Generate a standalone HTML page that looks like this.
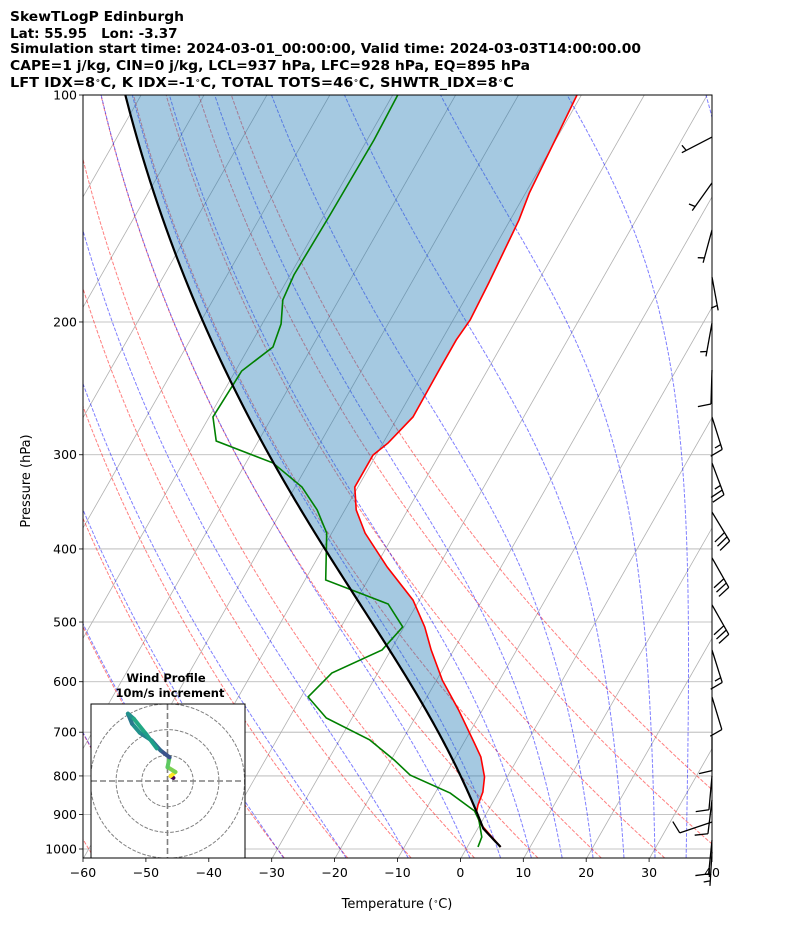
<!DOCTYPE html>
<html><head><meta charset="utf-8">
<style>
html,body{margin:0;padding:0;background:#fff;}
svg{display:block;font-family:"DejaVu Sans","Liberation Sans",sans-serif;}
</style></head>
<body>
<svg id="chart" width="794" height="937" viewBox="0 0 794 937" xmlns="http://www.w3.org/2000/svg">
<defs>
<clipPath id="plotClip"><rect x="83" y="95" width="629" height="763"/></clipPath>
<clipPath id="hodoClip"><rect x="91" y="704" width="154" height="154"/></clipPath>
</defs>
<rect x="0" y="0" width="794" height="937" fill="#fff"/>
<g font-weight="bold" font-size="13.5" fill="#000">
<text x="10" y="21" textLength="174" lengthAdjust="spacingAndGlyphs">SkewTLogP Edinburgh</text>
<text x="10" y="38" xml:space="preserve" style="white-space:pre">Lat: 55.95   Lon: -3.37</text>
<text x="10" y="53" textLength="631" lengthAdjust="spacingAndGlyphs">Simulation start time: 2024-03-01_00:00:00, Valid time: 2024-03-03T14:00:00.00</text>
<text x="10" y="70" textLength="520" lengthAdjust="spacingAndGlyphs">CAPE=1 j/kg, CIN=0 j/kg, LCL=937 hPa, LFC=928 hPa, EQ=895 hPa</text>
<text x="10" y="87" textLength="504" lengthAdjust="spacingAndGlyphs">LFT IDX=8<tspan baseline-shift="super" font-size="8">∘</tspan>C, K IDX=-1<tspan baseline-shift="super" font-size="8">∘</tspan>C, TOTAL TOTS=46<tspan baseline-shift="super" font-size="8">∘</tspan>C, SHWTR_IDX=8<tspan baseline-shift="super" font-size="8">∘</tspan>C</text>
</g>
<g id="plot" clip-path="url(#plotClip)"></g>
<rect x="83" y="95" width="629" height="763" fill="none" stroke="#000" stroke-width="1"/>
<g id="axes"></g>
<g id="barbs"></g>
<g id="hodo"></g>
</svg>
<script>
// ---------- data ----------
const envP = [100,134.9,146.5,177.5,198.8,211.3,230.3,267.3,289.4,300.3,331.1,355.1,381,422.7,467.6,507.6,544.5,597,654,723.4,755,802.7,840.4,874.3,893.4,923.8,993.8];
const envT = [-50.7,-49.4,-48.6,-47.7,-47.3,-47.7,-47.7,-47.6,-49.2,-50.5,-50.5,-48.2,-44.7,-38.1,-31.0,-26.7,-23.6,-19.1,-13.8,-8.3,-6.0,-3.6,-2.5,-2.1,-1.7,-0.2,5.3];
const dewP = [100,114.7,144.2,173.2,187,201.2,215.9,232.3,267.3,287.7,307.6,331.1,355.1,381,439.8,473.2,507.6,544.5,584.3,628.6,670.3,716.8,762,797.9,843,890.5,915.3,964,993.8];
const dewT = [-79.2,-78.9,-79.1,-79.4,-78.9,-77.0,-76.2,-79.0,-79.4,-76.7,-65.7,-58.9,-54.4,-50.8,-46.7,-34.6,-30.2,-31.4,-37.3,-38.9,-34.1,-25.2,-19.5,-15.6,-7.6,-2.1,-0.6,1.4,1.7];
const surfaceP = 993.8, surfaceT = 5.3, surfaceTd = 1.7;
const xTicks = [-60,-50,-40,-30,-20,-10,0,10,20,30,40];
const pTicks = [100,200,300,400,500,600,700,800,900,1000];
const dryT0 = [-60,-50,-40,-30,-20,-10,0,10,20,30,40,50];
const moistT0 = [-50,-40,-30,-20,-10,0,5,10,15,20,25,30,35,40,45];
const barbP = [113.7,130.8,151,174.3,200.6,231.6,267.3,307.6,357.4,411,474.4,544.6,628.6,709.6,800,861,921,973,1009];
const barbU = [5,3,1.3,-0.9,0.9,0.3,-4.5,-8.8,-15.6,-14.8,-14.8,-4.5,-2.9,0,0.9,1.2,9.5,1,0.3];
const barbV = [2.6,4.2,4.8,4.9,5,10,14.3,23.4,25.7,26.1,26.1,14.3,9.6,10,10,10,3.2,10,5];
const hodoU = [2.3,1.2,3.1,0,0.8,-2.7,-6.2,-10.8,-13.8,-15.4,-13.1,-8.5,-4.2];
const hodoV = [1.2,1.9,3.5,5.4,9.2,11.9,15.8,18.8,22.3,26.2,24.2,18.5,12.7];

// ---------- scales ----------
const X0=83,X1=712,Y0=95,Y1=858;
function yOf(p){return 95+754*(Math.log10(p)-2);}
function xOf(T,p){return 461+6.29*T+0.57*(858-yOf(p));}
const PBOT=Math.pow(10,2+(858-95)/754);
const NS="http://www.w3.org/2000/svg";
function mk(tag,attrs,parent){const e=document.createElementNS(NS,tag);for(const k in attrs)e.setAttribute(k,attrs[k]);parent.appendChild(e);return e;}
const plot=document.getElementById('plot');
const axes=document.getElementById('axes');
function pts(arr){return arr.map(a=>a[0].toFixed(2)+','+a[1].toFixed(2)).join(' ');}
function pressures(n){const a=[];for(let i=0;i<=n;i++){a.push(PBOT*Math.pow(100/PBOT,i/n));}return a;}

// thermo
const Rd=287.04,Cp=1005.7,Lv=2.501e6,EPS=0.622,KAP=Rd/Cp;
function es(Tc){return 6.112*Math.exp(17.67*Tc/(Tc+243.5));}
function dTdp(p,TK){const rs=EPS*es(TK-273.15)/(p-es(TK-273.15));return (Rd*TK+Lv*rs)/(p*(Cp+Lv*Lv*rs*EPS/(Rd*TK*TK)));}
function moistAt(T0c,pRef,pTarget){let T=T0c+273.15,p=pRef;const n=Math.max(4,Math.ceil(Math.abs(pTarget-pRef)/3));const h=(pTarget-pRef)/n;
 for(let i=0;i<n;i++){const k1=dTdp(p,T),k2=dTdp(p+h/2,T+h/2*k1),k3=dTdp(p+h/2,T+h/2*k2),k4=dTdp(p+h,T+h*k3);T+=h/6*(k1+2*k2+2*k3+k4);p+=h;}return T-273.15;}
function moistProfile(T0c,pRef,plist){
 const res={};const down=plist.filter(q=>q>=pRef).sort((a,b)=>a-b),up=plist.filter(q=>q<pRef).sort((a,b)=>b-a);
 let T=T0c,p=pRef;for(const q of down){T=moistAt(T,p,q);p=q;res[q]=T;}
 T=T0c;p=pRef;for(const q of up){T=moistAt(T,p,q);p=q;res[q]=T;}
 return plist.map(q=>res[q]);}

// ---------- grid ----------
for(let T=-150;T<=40;T+=10){
 const l=mk('line',{x1:xOf(T,PBOT),y1:Y1,x2:xOf(T,100),y2:Y0,stroke:'#b0b0b0','stroke-width':0.8},plot);
 
 
}
for(const p of pTicks){
 const l=mk('line',{x1:X0,x2:X1,y1:yOf(p),y2:yOf(p),stroke:'#b0b0b0','stroke-width':0.8},plot);
 
 
}
const PL=pressures(60);
for(const t0 of dryT0){
 const a=PL.map(p=>[xOf((t0+273.15)*Math.pow(p/1000,KAP)-273.15,p),yOf(p)]);
 const e=mk('polyline',{points:pts(a),fill:'none',stroke:'#ff0000','stroke-opacity':0.5,'stroke-width':1,'stroke-dasharray':'3.7,1.6'},plot);
 
 
}
const PM=pressures(50);
for(const t0 of moistT0){
 const tv=moistProfile(t0,1000,PM);
 const a=PM.map((p,i)=>[xOf(tv[i],p),yOf(p)]);
 const e=mk('polyline',{points:pts(a),fill:'none',stroke:'#0000ff','stroke-opacity':0.5,'stroke-width':1,'stroke-dasharray':'3.7,1.6'},plot);
 
 
}
// ---------- parcel ----------
const w=EPS*es(surfaceTd)/(surfaceP-es(surfaceTd));
let pLCL=surfaceP;
for(let p=surfaceP;p>300;p-=0.5){const e=w*p/(EPS+w);const lg=Math.log(e/6.112);const Td=243.5*lg/(17.67-lg);
 const Tdry=(surfaceT+273.15)*Math.pow(p/surfaceP,KAP)-273.15; if(Tdry<=Td){pLCL=p;break;}}
const TLCL=(surfaceT+273.15)*Math.pow(pLCL/surfaceP,KAP)-273.15;
const parcelP=[],parcelT=[];
for(let p=surfaceP;p>pLCL;p-=5){parcelP.push(p);parcelT.push((surfaceT+273.15)*Math.pow(p/surfaceP,KAP)-273.15);}
parcelP.push(pLCL);parcelT.push(TLCL);
{let T=TLCL,p=pLCL;for(let q=Math.floor(pLCL/5)*5;q>=100;q-=5){if(q>=p)continue;T=moistAt(T,p,q);p=q;parcelP.push(q);parcelT.push(T);}}
{const top=[];for(let i=0;i<envP.length;i++){if(envP[i]<=930)top.push([xOf(envT[i],envP[i]),yOf(envP[i])]);}
 top.sort((a,b)=>a[1]-b[1]);
 const back=[];for(let i=0;i<parcelP.length;i++){if(parcelP[i]<=930)back.push([xOf(parcelT[i],parcelP[i]),yOf(parcelP[i])]);}
 const f=mk('polygon',{points:pts(top.concat(back)),fill:'rgba(31,119,180,0.4)',stroke:'none'},plot);
 
 
}
{const e=mk('polyline',{points:pts(envP.map((p,i)=>[xOf(envT[i],p),yOf(p)])),fill:'none',stroke:'#ff0000','stroke-width':1.6},plot);
 
 }
{const e=mk('polyline',{points:pts(dewP.map((p,i)=>[xOf(dewT[i],p),yOf(p)])),fill:'none',stroke:'#008000','stroke-width':1.6},plot);
 
 }
{const e=mk('polyline',{points:pts(parcelP.map((p,i)=>[xOf(parcelT[i],p),yOf(p)])),fill:'none',stroke:'#000','stroke-width':2.2},plot);
 
 }

// ---------- axes ticks ----------
for(const t of xTicks){
 const x=X0+(t+60)*6.29;
 const tk=mk('line',{x1:x,x2:x,y1:Y1,y2:Y1+4,stroke:'#000','stroke-width':0.8},axes);
 
 
 const tx=mk('text',{x:x,y:Y1+19,'text-anchor':'middle','font-size':12.5},axes);
 tx.textContent=(t<0?'\u2212'+(-t):String(t));
 
 
}
for(const p of pTicks){
 const y=yOf(p);
 const tk=mk('line',{x1:X0-4,x2:X0,y1:y,y2:y,stroke:'#000','stroke-width':0.8},axes);
 
 
 const tx=mk('text',{x:X0-6,y:y+4.5,'text-anchor':'end','font-size':12.5},axes);
 tx.textContent=String(p);
 
 
}
{const t=mk('text',{x:397,y:908,'text-anchor':'middle','font-size':13},axes);
 t.innerHTML='Temperature (<tspan baseline-shift="super" font-size="8">∘</tspan>C)';
 
 
 const t2=mk('text',{x:0,y:0,'text-anchor':'middle','font-size':13,transform:'translate(30,481) rotate(-90)'},axes);
 t2.textContent='Pressure (hPa)';
 
 }

// ---------- wind barbs ----------
const bg=document.getElementById('barbs');
const STAFF=34;
for(let i=0;i<barbP.length;i++){
 const u=barbU[i],v=barbV[i];const spd=Math.sqrt(u*u+v*v);
 const y=yOf(barbP[i]),x=X1;
 const dx=-u/spd,dy=v/spd;
 const ex=x+dx*STAFF,ey=y+dy*STAFF;
 const g=mk('g',{stroke:'#000','stroke-width':1.3,fill:'none'},bg);
 
 
 mk('line',{x1:x,y1:y,x2:ex,y2:ey},g);
 const px=-dy,py=dx;
 let s=Math.round(spd/5)*5;let pos=0;
 while(s>=10){const bx=ex-dx*pos*5,by=ey-dy*pos*5;mk('line',{x1:bx,y1:by,x2:bx+px*13+dx*3,y2:by+py*13+dy*3},g);s-=10;pos++;}
 if(s>=5){if(pos===0)pos=1;const bx=ex-dx*pos*5,by=ey-dy*pos*5;mk('line',{x1:bx,y1:by,x2:bx+px*6.5+dx*1.5,y2:by+py*6.5+dy*1.5},g);}
}

// ---------- hodograph ----------
const hg=document.getElementById('hodo');
{const t1=mk('text',{x:166,y:682,'text-anchor':'middle','font-size':11.5,'font-weight':'bold'},hg);
 t1.textContent='Wind Profile';
 
 
 const t2=mk('text',{x:170,y:697,'text-anchor':'middle','font-size':11.5,'font-weight':'bold'},hg);
 t2.textContent='10m/s increment';
 
 
 const r=mk('rect',{x:91,y:704,width:154,height:154,fill:'#fff',stroke:'none'},hg);
 
 }
const hc=mk('g',{'clip-path':'url(#hodoClip)'},hg);


const HCX=167.5,HCY=781,HS=2.57;
for(const rr of [10,20,30]){
 const c=mk('circle',{cx:HCX,cy:HCY,r:rr*HS,fill:'none',stroke:'#808080','stroke-width':1,'stroke-dasharray':'3.7,1.6'},hc);
 
 
}
{const a=mk('line',{x1:HCX,x2:HCX,y1:704,y2:858,stroke:'#808080','stroke-width':1.6,'stroke-dasharray':'6,3'},hc);
 
 
 const b=mk('line',{x1:91,x2:245,y1:HCY,y2:HCY,stroke:'#808080','stroke-width':1.6,'stroke-dasharray':'6,3'},hc);
 
 }
const hodoColors=['#440154','#fde725','#7ad151','#5ec962','#3b528b','#31688e','#26828e','#21918c','#2a788e','#21918c','#22a884','#1f9e89','#3b528b'];
for(let i=0;i<hodoU.length-1;i++){
 const l=mk('line',{x1:HCX+hodoU[i]*HS,y1:HCY-hodoV[i]*HS,x2:HCX+hodoU[i+1]*HS,y2:HCY-hodoV[i+1]*HS,stroke:hodoColors[i],'stroke-width':4,'stroke-linecap':'round'},hc);
 
 
}
{const r=mk('rect',{x:91,y:704,width:154,height:154,fill:'none',stroke:'#000','stroke-width':1},hg);
 
 }
</script>
</body></html>
